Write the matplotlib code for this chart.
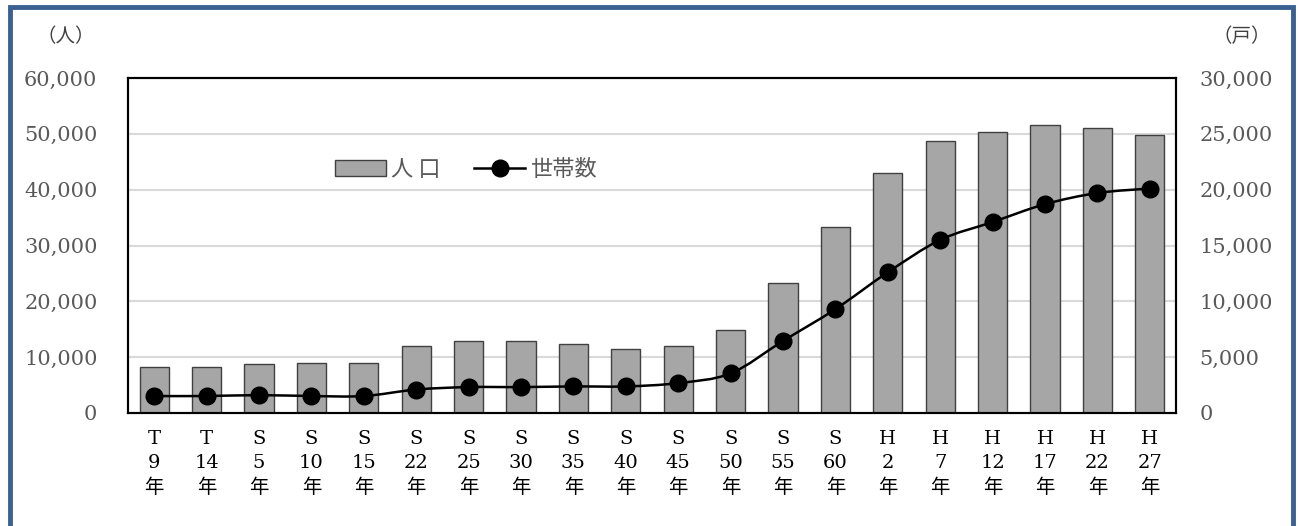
import matplotlib
matplotlib.use("Agg")
import matplotlib.pyplot as plt
from matplotlib.patches import Rectangle
from matplotlib.lines import Line2D
from matplotlib.path import Path
from matplotlib.patches import PathPatch
import numpy as np

plt.rcParams['font.family'] = ['DejaVu Serif', 'Noto Sans CJK JP']

eras = ["T", "T", "S", "S", "S", "S", "S", "S", "S", "S", "S", "S", "S", "S", "H", "H", "H", "H", "H", "H"]
years = ["9", "14", "5", "10", "15", "22", "25", "30", "35", "40", "45", "50", "55", "60", "2", "7", "12", "17", "22", "27"]
population = [8300, 8300, 8800, 9000, 9000, 12000, 12900, 12900, 12400, 11500,
              12000, 14900, 23300, 33300, 43000, 48700, 50300, 51600, 51000, 49800]
households = [1520, 1520, 1600, 1520, 1520, 2100, 2320, 2320, 2380, 2380,
              2680, 3550, 6450, 9300, 12600, 15500, 17100, 18700, 19700, 20100]
left_ticks = [0, 10000, 20000, 30000, 40000, 50000, 60000]
right_ticks = [0, 5000, 10000, 15000, 20000, 25000, 30000]

W, H = 1298, 526
fig = plt.figure(figsize=(W / 100, H / 100), dpi=100)
ax = fig.add_axes([128 / W, 1 - 413 / H, (1176 - 128) / W, (413 - 78) / H])
ax2 = ax.twinx()

x = np.arange(len(population))
ax.bar(x, population, width=0.56, color='#a6a6a6', edgecolor='#404040', linewidth=1.0, zorder=2)
ax.set_xlim(-0.5, len(x) - 0.5)
ax.set_ylim(0, 60000)
ax.set_yticks(left_ticks)
ax.set_yticklabels([f"{v:,}" for v in left_ticks])
ax.yaxis.grid(True, color='#d9d9d9', linewidth=1.5, zorder=0)
ax.set_axisbelow(True)
ax.set_xticks(x)
ax.set_xticklabels([f"{e}\n{y}\n年" for e, y in zip(eras, years)], linespacing=1.45)
ax.tick_params(axis='x', length=0, pad=12, labelsize=14, labelcolor='black')
ax.tick_params(axis='y', length=0, pad=22, labelsize=15, labelcolor='#595959')

# smooth line (Catmull-Rom -> Bezier) through the data points
ax2.set_ylim(0, 30000)
xs = x.astype(float)
ys = np.array(households, dtype=float)
verts = [(xs[0], ys[0])]
codes = [Path.MOVETO]
n = len(xs)
for i in range(n - 1):
    p0 = (xs[max(i - 1, 0)], ys[max(i - 1, 0)])
    p1 = (xs[i], ys[i])
    p2 = (xs[i + 1], ys[i + 1])
    p3 = (xs[min(i + 2, n - 1)], ys[min(i + 2, n - 1)])
    t = 1 / 6
    c1 = (p1[0] + (p2[0] - p0[0]) * t, p1[1] + (p2[1] - p0[1]) * t)
    c2 = (p2[0] - (p3[0] - p1[0]) * t, p2[1] - (p3[1] - p1[1]) * t)
    verts += [c1, c2, p2]
    codes += [Path.CURVE4] * 3
ax2.add_patch(PathPatch(Path(verts, codes), facecolor='none', edgecolor='black', linewidth=1.8, zorder=3))
ax2.plot(xs, ys, linestyle='none', marker='o', markersize=12, color='black', zorder=4)
ax2.set_yticks(right_ticks)
ax2.set_yticklabels([f"{v:,}" for v in right_ticks])
ax2.tick_params(axis='y', length=0, pad=17, labelsize=15, labelcolor='#595959')

for a in (ax, ax2):
    for s in a.spines.values():
        s.set_linewidth(1.5)
        s.set_color('black')

# unit labels
fig.text(66 / W, 1 - 37 / H, "（人）", ha='center', va='center', fontsize=14, color='#404040',
         family=['Noto Sans CJK JP'])
fig.text(1242 / W, 1 - 37 / H, "（戸）", ha='center', va='center', fontsize=14, color='#404040',
         family=['Noto Sans CJK JP'])

# legend
handles = [Rectangle((0, 0), 1, 1, facecolor='#a6a6a6', edgecolor='#404040', linewidth=1.0),
           Line2D([], [], color='black', linewidth=1.8, marker='o', markersize=12)]
leg = ax.legend(handles, ["人 口", "世帯数"], loc='center left', bbox_to_anchor=(0.178, 0.728),
                ncol=2, frameon=False, handlelength=2.3, handleheight=0.7, handletextpad=0.25,
                columnspacing=1.5, prop={'family': ['Noto Sans CJK JP'], 'size': 16})
for t in leg.get_texts():
    t.set_color('#595959')

# blue border
fig.patches.append(Rectangle((9.5 / W, -0.05), (1292.5 - 9.5) / W, 1.05 - 7.5 / H,
                             transform=fig.transFigure, fill=False, edgecolor='#3b6192', linewidth=3.5))

fig.savefig("out.png", dpi=100)
